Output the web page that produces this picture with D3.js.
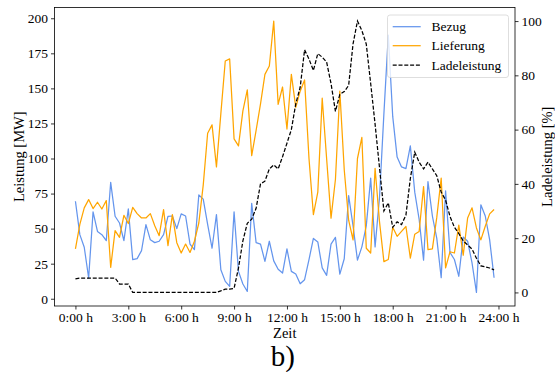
<!DOCTYPE html>
<html>
<head>
<meta charset="utf-8">
<script src="https://cdn.jsdelivr.net/npm/d3@7"></script>
<style>
  html, body { margin: 0; padding: 0; background: #fff; }
  svg { display: block; }
  text { font-family: "Liberation Serif", "Times New Roman", serif; fill: #000; }
</style>
</head>
<body>
<svg id="chart" width="555" height="372"></svg>
<script>
// 15-minute resolution over one day (96 samples)
const stepsPerHour = 4;
const sampleCount = 96;

// Grid purchase [MW]
const bezug = [69.5, 45.7, 36.7, 14.8, 62, 48, 45.7, 41.4, 83, 58.8,
  54, 41.4, 64, 27.9, 28.6, 34.3, 52.9, 42, 40, 41,
  45.7, 58.8, 59, 50, 60.5, 59, 39, 35, 74, 71,
  53, 36, 60, 20.7, 12.4, 8.8, 62, 19.5, 10.5, 5.2,
  68, 40, 39, 26.7, 41, 27, 21, 18.3, 35.5, 19.5,
  17.6, 10.7, 13.6, 27.9, 43, 40.5, 22, 16.7, 39, 43.8,
  17.6, 28.5, 73.5, 52, 27.5, 37, 52, 86, 37, 72,
  132, 188, 130, 101, 94, 92.8, 109, 76, 56.5, 27.5,
  83.5, 59, 43, 15, 77, 33, 28, 16, 44, 41,
  25.5, 4.5, 67, 59, 42, 15];

// Grid feed-in [MW]
const lieferung = [35.5, 53, 64.8, 70.7, 64.3, 68.8, 64, 70, 22.4, 48.6,
  43.8, 59.5, 53.6, 65.2, 60.7, 57.6, 57.6, 60.7, 52, 45,
  63.6, 37.9, 60, 40, 32.6, 39, 33, 41, 54, 81,
  118, 124, 94, 132, 169.5, 171, 114, 109, 134, 149,
  102, 120, 139, 160, 166, 198, 138.6, 151, 121, 160,
  136.5, 148, 156, 100, 60, 76, 143, 100, 57.5, 85,
  148, 92, 56, 42, 100, 115, 36, 32.6, 93, 55,
  26.5, 28, 51, 44.5, 48, 51.5, 29, 46, 48, 80,
  35, 35.5, 58, 86, 22, 33.5, 32.6, 52.5, 31, 57.6,
  64.8, 50.5, 42, 51.7, 60.5, 63.6];

// Charging power [%]
const ladeleistung = [5.0, 5.3, 5.3, 5.3, 5.3, 5.3, 5.3, 5.3, 5.3, 5.3,
  3.1, 3.1, 3.1, 0, 0, 0, 0, 0, 0, 0,
  0, 0, 0, 0, 0, 0, 0, 0, 0, 0,
  0, 0, 0, 0.6, 1.2, 1.2, 1.5, 9, 19, 25.5,
  27, 31, 40, 41, 45.5, 47, 45.5, 50, 55, 60,
  69.5, 75.6, 89.4, 86, 81.8, 88, 86.7, 84.9, 77, 66.7,
  73, 74, 76.3, 91.6, 100, 96.5, 91.5, 77, 62, 46,
  30, 33, 24, 26, 25, 28.5, 42, 51.7, 48, 45.5,
  48, 45.5, 43, 37, 34, 28, 24, 21.7, 19, 17.5,
  16, 12.6, 9.8, 9.4, 9, 8.3];

const xTickHours = [0, 3, 6, 9, 12, 15, 18, 21, 24];
const xTickLabels = ["0:00 h", "3:00 h", "6:00 h", "9:00 h", "12:00 h", "15:00 h", "18:00 h", "21:00 h", "24:00 h"];
const leftTicks = [0, 25, 50, 75, 100, 125, 150, 175, 200];
const rightTicks = [0, 20, 40, 60, 80, 100];

const seriesNames = ["Bezug", "Lieferung", "Ladeleistung"];
const seriesColors = ["#6495ED", "#FFA500", "#000000"];

const hours = d3.range(sampleCount).map(i => i / stepsPerHour);

const plot = { left: 54.5, right: 515, top: 7.5, bottom: 306 };

// axis limits padded by 5 % of the data range on each side
function padded(lo, hi) {
  const m = (hi - lo) * 0.05;
  return [lo - m, hi + m];
}

const x = d3.scaleLinear()
  .domain(padded(hours[0], hours[hours.length - 1]))
  .range([plot.left, plot.right]);

const powerAll = bezug.concat(lieferung);
const yLeft = d3.scaleLinear()
  .domain(padded(d3.min(powerAll), d3.max(powerAll)))
  .range([plot.bottom, plot.top]);

const yRight = d3.scaleLinear()
  .domain(padded(d3.min(ladeleistung), d3.max(ladeleistung)))
  .range([plot.bottom, plot.top]);

const svg = d3.select("#chart");
svg.append("rect").attr("width", 555).attr("height", 372).attr("fill", "#fff");

const clip = svg.append("defs").append("clipPath").attr("id", "plotclip");
clip.append("rect")
  .attr("x", plot.left).attr("y", plot.top)
  .attr("width", plot.right - plot.left).attr("height", plot.bottom - plot.top);

const lines = svg.append("g").attr("clip-path", "url(#plotclip)");

const lineLeft = d3.line().x((d, i) => x(hours[i])).y(d => yLeft(d));
const lineRight = d3.line().x((d, i) => x(hours[i])).y(d => yRight(d));

lines.append("path").datum(bezug)
  .attr("d", lineLeft)
  .attr("fill", "none").attr("stroke", seriesColors[0])
  .attr("stroke-width", 1.25).attr("stroke-linejoin", "round");

lines.append("path").datum(lieferung)
  .attr("d", lineLeft)
  .attr("fill", "none").attr("stroke", seriesColors[1])
  .attr("stroke-width", 1.25).attr("stroke-linejoin", "round");

lines.append("path").datum(ladeleistung)
  .attr("d", lineRight)
  .attr("fill", "none").attr("stroke", seriesColors[2])
  .attr("stroke-width", 1.25).attr("stroke-dasharray", "4,1.8");

// axes
const tickFont = 13.5;
const titleFont = 14.5;

const xAxis = d3.axisBottom(x)
  .tickValues(xTickHours)
  .tickFormat((d, i) => xTickLabels[i])
  .tickSize(3.5).tickPadding(3);
const gx = svg.append("g").attr("transform", `translate(0,${plot.bottom})`).call(xAxis);

const gl = svg.append("g").attr("transform", `translate(${plot.left},0)`)
  .call(d3.axisLeft(yLeft).tickValues(leftTicks).tickSize(3.5).tickPadding(3));

const gr = svg.append("g").attr("transform", `translate(${plot.right},0)`)
  .call(d3.axisRight(yRight).tickValues(rightTicks).tickSize(3.5).tickPadding(3));

[gx, gl, gr].forEach(g => {
  g.select(".domain").remove();
  g.selectAll(".tick line").attr("stroke", "#000").attr("stroke-width", 0.8);
  g.selectAll(".tick text")
    .attr("font-family", "Liberation Serif, Times New Roman, serif")
    .attr("font-size", tickFont).attr("fill", "#000");
});

// frame
svg.append("rect")
  .attr("x", plot.left).attr("y", plot.top)
  .attr("width", plot.right - plot.left).attr("height", plot.bottom - plot.top)
  .attr("fill", "none").attr("stroke", "#000").attr("stroke-width", 0.8);

// axis titles
svg.append("text")
  .attr("transform", `translate(24,${(plot.top + plot.bottom) / 2}) rotate(-90)`)
  .attr("text-anchor", "middle").attr("font-size", titleFont)
  .text("Leistung [MW]");

svg.append("text")
  .attr("transform", `translate(551.5,${(plot.top + plot.bottom) / 2}) rotate(-90)`)
  .attr("text-anchor", "middle").attr("font-size", titleFont)
  .text("Ladeleistung [%]");

svg.append("text")
  .attr("x", (plot.left + plot.right) / 2).attr("y", 337.5)
  .attr("text-anchor", "middle").attr("font-size", titleFont)
  .text("Zeit");

svg.append("text")
  .attr("x", (plot.left + plot.right) / 2 - 2).attr("y", 366)
  .attr("text-anchor", "middle").attr("font-size", 29)
  .text("b)");

// legend
const legend = svg.append("g");
legend.append("rect")
  .attr("x", 387.5).attr("y", 15).attr("width", 121).attr("height", 62.5)
  .attr("rx", 2.5)
  .attr("fill", "#fff").attr("fill-opacity", 0.8)
  .attr("stroke", "#d6d6d6").attr("stroke-width", 0.8);

const rowY = [26.7, 45.7, 65];
seriesNames.forEach((name, i) => {
  const row = legend.append("g");
  row.append("line")
    .attr("x1", 392.7).attr("x2", 420.7).attr("y1", rowY[i]).attr("y2", rowY[i])
    .attr("stroke", seriesColors[i]).attr("stroke-width", 1.25)
    .attr("stroke-dasharray", i === 2 ? "4,1.8" : null);
  row.append("text")
    .attr("x", 431.5).attr("y", rowY[i] + 4.7)
    .attr("font-size", tickFont)
    .text(name);
});
</script>
</body>
</html>
